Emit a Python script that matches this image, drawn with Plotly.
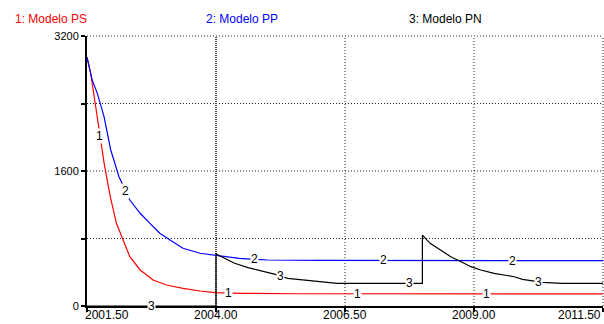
import numpy as np
import plotly.graph_objects as go

# ---- data -------------------------------------------------------------
years_ps = [2001.50, 2001.57, 2001.64, 2001.73, 2001.83, 2001.88, 2001.95, 2002.07,
            2002.20, 2002.33, 2002.53, 2002.78, 2003.04, 2003.36, 2003.69, 2003.98,
            2004.50, 2005.50, 2011.50]
modelo_ps = [2950, 2760, 2480, 2090, 1700, 1530, 1300, 980,
             782, 584, 427, 308, 249, 209, 178, 158,
             150, 145, 143]

years_pp = [2001.50, 2001.60, 2001.70, 2001.83, 2001.96, 2002.08, 2002.12, 2002.33,
            2002.53, 2002.72, 2002.91, 2003.11, 2003.36, 2003.69, 2004.00, 2004.25,
            2004.45, 2004.75, 2005.00, 2006.00, 2011.50]
modelo_pp = [2950, 2680, 2520, 2244, 1849, 1612, 1532, 1256,
             1099, 980, 862, 782, 684, 625, 600, 585,
             565, 552, 545, 540, 538]

years_pn = [2001.50, 2004.00, 2004.00, 2004.16, 2004.36, 2004.62, 2004.88, 2005.15,
            2005.39, 2005.70, 2005.95, 2006.35, 2008.00, 2008.00, 2008.15, 2008.36,
            2008.55, 2008.75, 2008.94, 2009.13, 2009.39, 2009.78, 2009.94, 2010.33,
            2010.71, 2011.50]
modelo_pn = [0, 0, 616, 565, 506, 454, 418, 375,
             328, 308, 288, 269, 269, 841, 743, 664,
             584, 525, 466, 427, 387, 347, 316, 281,
             269, 269]

series_names = ["1: Modelo PS", "2: Modelo PP", "3: Modelo PN"]
series_ids = ["1", "2", "3"]
x_ticks = [2001.5, 2004.0, 2006.5, 2009.0, 2011.5]
x_tick_text = ["2001.50", "2004.00", "2006.50", "2009.00", "2011.50"]
y_ticks = [0, 800, 1600, 2400, 3200]
y_tick_text = ["0", "", "1600", "", "3200"]

# where the series numbers sit along each curve
label_years = [
    [2001.75, 2004.25, 2006.75, 2009.25],
    [2002.25, 2004.75, 2007.25, 2009.75],
    [2002.75, 2005.25, 2007.75, 2010.25],
]

# ---- styling ----------------------------------------------------------
colors = ["#ff0000", "#0000ff", "#000000"]
FONT = "Liberation Sans, Arial, sans-serif"
X0, X1 = x_ticks[0], x_ticks[-1]
Y0, Y1 = y_ticks[0], y_ticks[-1]

fig = go.Figure()
series = [(years_ps, modelo_ps), (years_pp, modelo_pp), (years_pn, modelo_pn)]
for (xs, ys), c, name in zip(series, colors, series_names):
    fig.add_trace(go.Scatter(x=xs, y=ys, mode="lines", name=name,
                             line=dict(color=c, width=1.2), hoverinfo="skip"))

# numbered markers on the curves, with a white knock-out behind them
annotations = []
for (xs, ys), c, sid, lx in zip(series, colors, series_ids, label_years):
    for xv in lx:
        yv = float(np.interp(xv, xs, ys))
        annotations.append(dict(x=xv, y=yv, xref="x", yref="y", text=sid,
                                showarrow=False, bgcolor="white", borderpad=0,
                                font=dict(family=FONT, size=12, color="#000000"),
                                xanchor="center", yanchor="middle"))

# series titles along the top
legend_x = [-0.1434, 0.2267, 0.6202]
for name, c, lx in zip(series_names, colors, legend_x):
    annotations.append(dict(x=lx, y=1.063, xref="paper", yref="paper", text=name,
                            showarrow=False, xanchor="left", yanchor="middle",
                            font=dict(family=FONT, size=12, color=c)))

# x tick labels (end labels kept inside the frame)
for xv, txt in zip(x_ticks, x_tick_text):
    px = (xv - X0) / (X1 - X0)
    anchor = "center"
    if xv == X0:
        px, anchor = -0.008, "left"
    elif xv == X1:
        px, anchor = 1.0, "right"
    annotations.append(dict(x=px, y=-0.066, xref="paper", yref="paper", text=txt,
                            showarrow=False, xanchor=anchor, yanchor="bottom",
                            font=dict(family=FONT, size=12, color="#000000")))

# dotted grid
shapes = []
for yv in y_ticks[1:]:
    py = (yv - Y0) / (Y1 - Y0)
    shapes.append(dict(type="line", xref="paper", yref="paper", x0=0, x1=1,
                       y0=py, y1=py, layer="below",
                       line=dict(color="#222222", width=1, dash="1px,2px")))
for xv in x_ticks[1:]:
    px = (xv - X0) / (X1 - X0)
    heavy = xv == 2004.0
    shapes.append(dict(type="line", xref="paper", yref="paper", x0=px, x1=px,
                       y0=0, y1=1, layer="below",
                       line=dict(color="#444444" if heavy else "#222222",
                                 width=2 if heavy else 1,
                                 dash="1px,1px" if heavy else "1px,2px")))

fig.update_layout(
    width=604, height=324,
    margin=dict(l=87, r=1, t=36, b=18),
    paper_bgcolor="white", plot_bgcolor="white",
    showlegend=False,
    font=dict(family=FONT, size=12, color="#000000"),
    annotations=annotations, shapes=shapes,
    xaxis=dict(range=[X0, X1], showgrid=False, zeroline=False,
               showline=True, linewidth=2, linecolor="black",
               ticks="outside", ticklen=4, tickwidth=2, tickcolor="black",
               tickvals=x_ticks, showticklabels=False, fixedrange=True),
    yaxis=dict(range=[Y0, Y1], showgrid=False, zeroline=False,
               showline=True, linewidth=2, linecolor="black",
               ticks="outside", ticklen=4, tickwidth=2, tickcolor="black",
               tickvals=y_ticks, ticktext=y_tick_text,
               tickfont=dict(family=FONT, size=11, color="black"),
               fixedrange=True),
)

fig.write_html("out.html")
